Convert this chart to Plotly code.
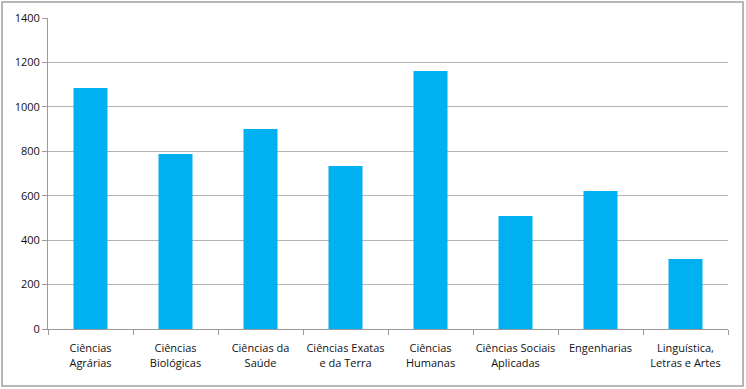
import plotly.graph_objects as go

categories = ["Ciências<br>Agrárias", "Ciências<br>Biológicas", "Ciências da<br>Saúde",
              "Ciências Exatas<br>e da Terra", "Ciências<br>Humanas", "Ciências Sociais<br>Aplicadas",
              "Engenharias", "Linguística,<br>Letras e Artes"]
values = [1085, 788, 900, 734, 1161, 509, 621, 315]
y_ticks = [0, 200, 400, 600, 800, 1000, 1200, 1400]

L, R, T, B = 48, 746 - 728, 18, 389 - 329
W, H = 746 - L - R, 389 - T - B

def px(x):
    return (x - L) / W

def py(y):
    return (389 - B - y) / H

fig = go.Figure(go.Bar(x=categories, y=values, marker_color="#00B0F0", marker_line_width=0,
                       hoverinfo="skip"))
fig.update_layout(
    width=746, height=389,
    margin=dict(l=L, r=R, t=T, b=B),
    paper_bgcolor="white", plot_bgcolor="white",
    bargap=0.6, showlegend=False,
    font=dict(family="Open Sans", size=11, color="#111"),
    shapes=[dict(type="rect", xref="paper", yref="paper",
                 x0=px(2), x1=px(743), y0=py(386), y1=py(2),
                 line=dict(color="#a0a0a0", width=1.5), layer="below")],
)
fig.update_xaxes(showgrid=False, showline=True, linecolor="#9a9a9a", linewidth=1,
                 ticks="outside", tickson="boundaries", ticklen=5, tickcolor="#9a9a9a",
                 tickangle=0, automargin=False, tickfont=dict(size=11), ticklabelstandoff=9)
fig.update_yaxes(range=[0, 1400], tickvals=y_ticks, showgrid=True, gridcolor="#b3b3b3",
                 gridwidth=1, showline=True, linecolor="#9a9a9a", ticks="outside",
                 ticklen=5, tickcolor="#9a9a9a", zeroline=False, automargin=False,
                 tickfont=dict(size=11))
fig.write_html("out.html", config={"displayModeBar": False},
               post_script="document.body.style.margin='0';document.body.style.overflow='hidden';")
